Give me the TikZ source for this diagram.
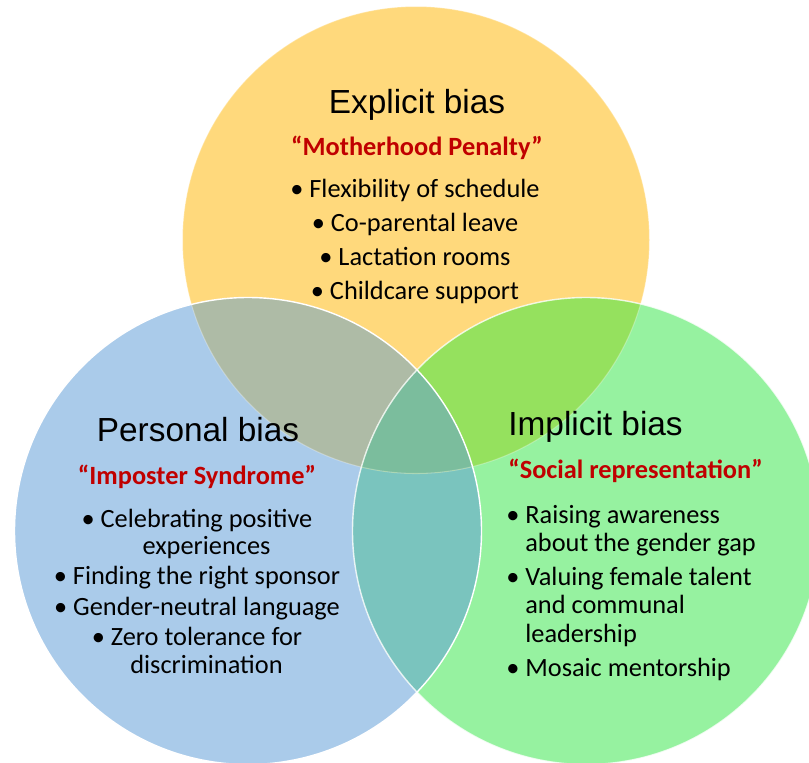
\documentclass[tikz,border=0pt]{standalone}
\usepackage{fontspec}
\setmainfont{Carlito}
\newfontfamily\headfont{Liberation Sans}
\usepackage{tikz}

\definecolor{explicitcol}{RGB}{255,217,124}
\definecolor{personalcol}{RGB}{170,203,234}
\definecolor{implicitcol}{RGB}{150,242,160}
\definecolor{expercol}{RGB}{174,187,166}
\definecolor{expimpcol}{RGB}{149,225,94}
\definecolor{perimpcol}{RGB}{122,196,190}
\definecolor{allcol}{RGB}{123,189,157}
\definecolor{quotered}{RGB}{192,0,0}

\newcommand{\circrad}{233.5}
\newcommand{\itm}{\llap{\textbullet\ }}

\begin{document}
\begin{tikzpicture}[x=0.02cm,y=-0.02cm,
  title/.style={font=\headfont\fontsize{19}{22}\selectfont, anchor=base, inner sep=0pt},
  motto/.style={font=\bfseries\fontsize{15}{18}\selectfont, text=quotered, anchor=base, inner sep=0pt},
  items/.style={font=\fontsize{15}{16.2}\selectfont, anchor=base, inner sep=0pt}]

\useasboundingbox (0,0) rectangle (809,762);

\coordinate (Y) at (416,240);
\coordinate (B) at (248,531);
\coordinate (G) at (586,531);

% the three circles and their overlaps
\fill[explicitcol] (Y) circle (\circrad);
\fill[personalcol] (B) circle (\circrad);
\fill[implicitcol] (G) circle (\circrad);
\begin{scope}
\clip (B) circle (\circrad);
\fill[perimpcol] (G) circle (\circrad);
\end{scope}
\begin{scope}
\clip (Y) circle (\circrad);
\fill[expercol] (B) circle (\circrad);
\fill[expimpcol] (G) circle (\circrad);
\clip (B) circle (\circrad);
\fill[allcol] (G) circle (\circrad);
\end{scope}
\draw[white, opacity=0.3, line width=0.6pt] (Y) circle (\circrad);
\draw[white, opacity=0.8, line width=0.8pt] (G) circle (\circrad);
\draw[white, line width=0.8pt] (B) circle (\circrad);

% explicit bias (lists sit on their last line)
\node[title] (explicit) at (417,113) {Explicit bias};
\node[motto] (motherhood) at (417,155) {“Motherhood Penalty”};
\node[items, align=center] (explicitlist) at (424.5,299) {\itm Flexibility of schedule\\[3pt]%
\itm Co-parental leave\\[3pt]%
\itm Lactation rooms\\[3pt]%
\itm Childcare support};

% personal bias
\node[title] (personal) at (198,441) {Personal bias};
\node[motto] (imposter) at (197,484) {“Imposter Syndrome”};
\node[items, align=center, font=\fontsize{15}{15.4}\selectfont] (personallist) at (206.5,673) {\itm Celebrating positive\\experiences\\[2pt]%
\itm Finding the right sponsor\\[2pt]%
\itm Gender-neutral language\\[2pt]%
\itm Zero tolerance for\\discrimination};

% implicit bias
\node[title, anchor=base west] (implicit) at (508,435) {Implicit bias};
\node[motto, anchor=base west] (social) at (508,478) {“Social representation”};
\node[items, align=left, anchor=base west] (implicitlist) at (525,676) {\itm Raising awareness\\about the gender gap\\[3pt]%
\itm Valuing female talent\\and communal\\leadership\\[3pt]%
\itm Mosaic mentorship};

\end{tikzpicture}
\end{document}
